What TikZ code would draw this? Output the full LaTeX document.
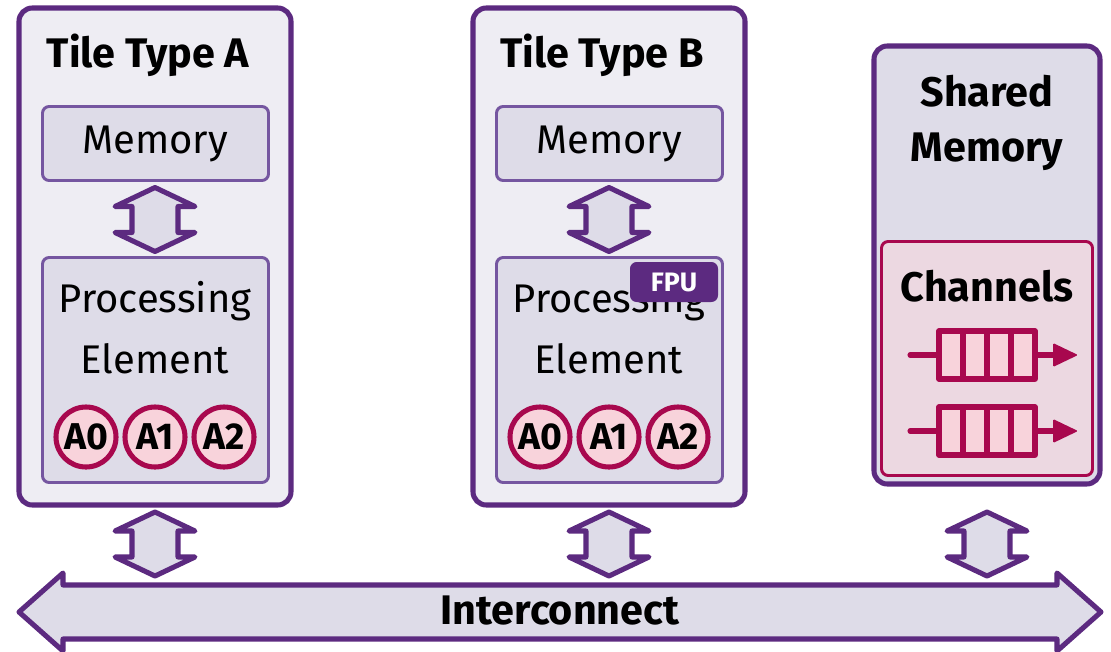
\documentclass[tikz,border=0pt]{standalone}
\usepackage{fontspec}
\setmainfont{Fira Sans}
\usetikzlibrary{calc}
\definecolor{plum}{HTML}{5C2A80}
\definecolor{plumlight}{HTML}{7556A0}
\definecolor{tilebg}{HTML}{EEEDF3}
\definecolor{boxbg}{HTML}{DEDCE8}
\definecolor{berry}{HTML}{A8084E}
\definecolor{pinkbg}{HTML}{F8D3DB}
\definecolor{chanbg}{HTML}{ECD8E1}
\tikzset{
  tile/.style={draw=plum, fill=tilebg, line width=3.8pt, rounded corners=10pt},
  part/.style={draw=plumlight, fill=boxbg, line width=2.2pt, rounded corners=5pt},
  link/.style={draw=plum, fill=boxbg, line width=3.8pt, line join=round},
  title/.style={font=\fontsize{31}{36}\selectfont\bfseries, inner sep=0pt},
  label/.style={font=\fontsize{30}{35}\selectfont, inner sep=0pt},
  reg/.style={circle, draw=berry, fill=pinkbg, line width=3.8pt, minimum size=45pt,
    inner sep=0pt, font=\fontsize{28}{32}\selectfont\bfseries},
  queue/.style={draw=berry, fill=pinkbg, line width=3.8pt, line cap=round, line join=round}
}
% vertical double block arrow centred on (#1,#2)
\def\vlink(#1,#2){\draw[link] (#1,#2-32) -- (#1+40,#2-13) -- (#1+23,#2-13) -- (#1+23,#2+13)
  -- (#1+40,#2+13) -- (#1,#2+32) -- (#1-40,#2+13) -- (#1-23,#2+13) -- (#1-23,#2-13)
  -- (#1-40,#2-13) -- cycle;}
% channel queue centred at height #1
\def\chanq(#1){
  \draw[queue] (910,#1) -- (939,#1);
  \draw[queue] (939,#1-24) rectangle (1035,#1+24);
  \foreach \cx in {963,987,1011} \draw[queue] (\cx,#1-24) -- (\cx,#1+24);
  \draw[queue] (1035,#1) -- (1054,#1);
  \fill[berry, rounded corners=1pt] (1053,#1-12) -- (1078,#1) -- (1053,#1+12) -- cycle;
}

\begin{document}
\begin{tikzpicture}[x=0.75pt, y=-0.75pt]
  %%%%% START %%%%%
  \useasboundingbox (0,0) rectangle (1111,651);

  % tile type A
  \draw[tile] (19,8) rectangle (291,505);
  \node[title] (titleA) at (148,55) {Tile Type A};
  \draw[part] (42.5,106.5) rectangle (268.5,180.5);
  \node[label] (memA) at (155,144) {Memory};
  \vlink(155,219.5)
  \draw[part] (42.5,257.5) rectangle (268.5,482.5);
  \node[label] (procA) at (155,301) {Processing};
  \node[label] (elemA) at (155,359) {Element};
  \node[reg] (a0A) at (86,437) {A0};
  \node[reg] (a1A) at (155,437) {A1};
  \node[reg] (a2A) at (224,437) {A2};

  % tile type B
  \draw[tile] (473,8) rectangle (745,505);
  \node[title] (titleB) at (602,55) {Tile Type B};
  \draw[part] (496.5,106.5) rectangle (722.5,180.5);
  \node[label] (memB) at (609,144) {Memory};
  \vlink(609,219.5)
  \draw[part] (496.5,257.5) rectangle (722.5,482.5);
  \node[label] (procB) at (609,301) {Processing};
  \node[label] (elemB) at (609,359) {Element};
  \fill[plum, rounded corners=5pt] (630,262) rectangle (718,302);
  \node[font=\fontsize{20}{24}\selectfont\bfseries, text=white, inner sep=0pt] (fpu) at (674,282) {FPU};
  \node[reg] (a0B) at (540,437) {A0};
  \node[reg] (a1B) at (609,437) {A1};
  \node[reg] (a2B) at (678,437) {A2};

  % shared memory
  \draw[tile, fill=boxbg] (874,46) rectangle (1100,484);
  \node[title] (shared) at (987,91) {Shared};
  \node[title] (sharedmem) at (987,152) {Memory};
  \draw[part, draw=berry, fill=chanbg] (881.5,241.5) rectangle (1092.5,475.5);
  \node[title] (chan) at (987,286) {Channels};
  \chanq(355)
  \chanq(431)

  % interconnect
  \vlink(155,544)
  \vlink(609,544)
  \vlink(987,544)
  \draw[link] (19,612) -- (63,573) -- (63,585) -- (1057,585) -- (1057,573) -- (1101,612)
    -- (1057,651) -- (1057,639) -- (63,639) -- (63,651) -- cycle;
  \node[title] (bus) at (560,611) {Interconnect};
  %%%%% END %%%%%
\end{tikzpicture}
\end{document}
